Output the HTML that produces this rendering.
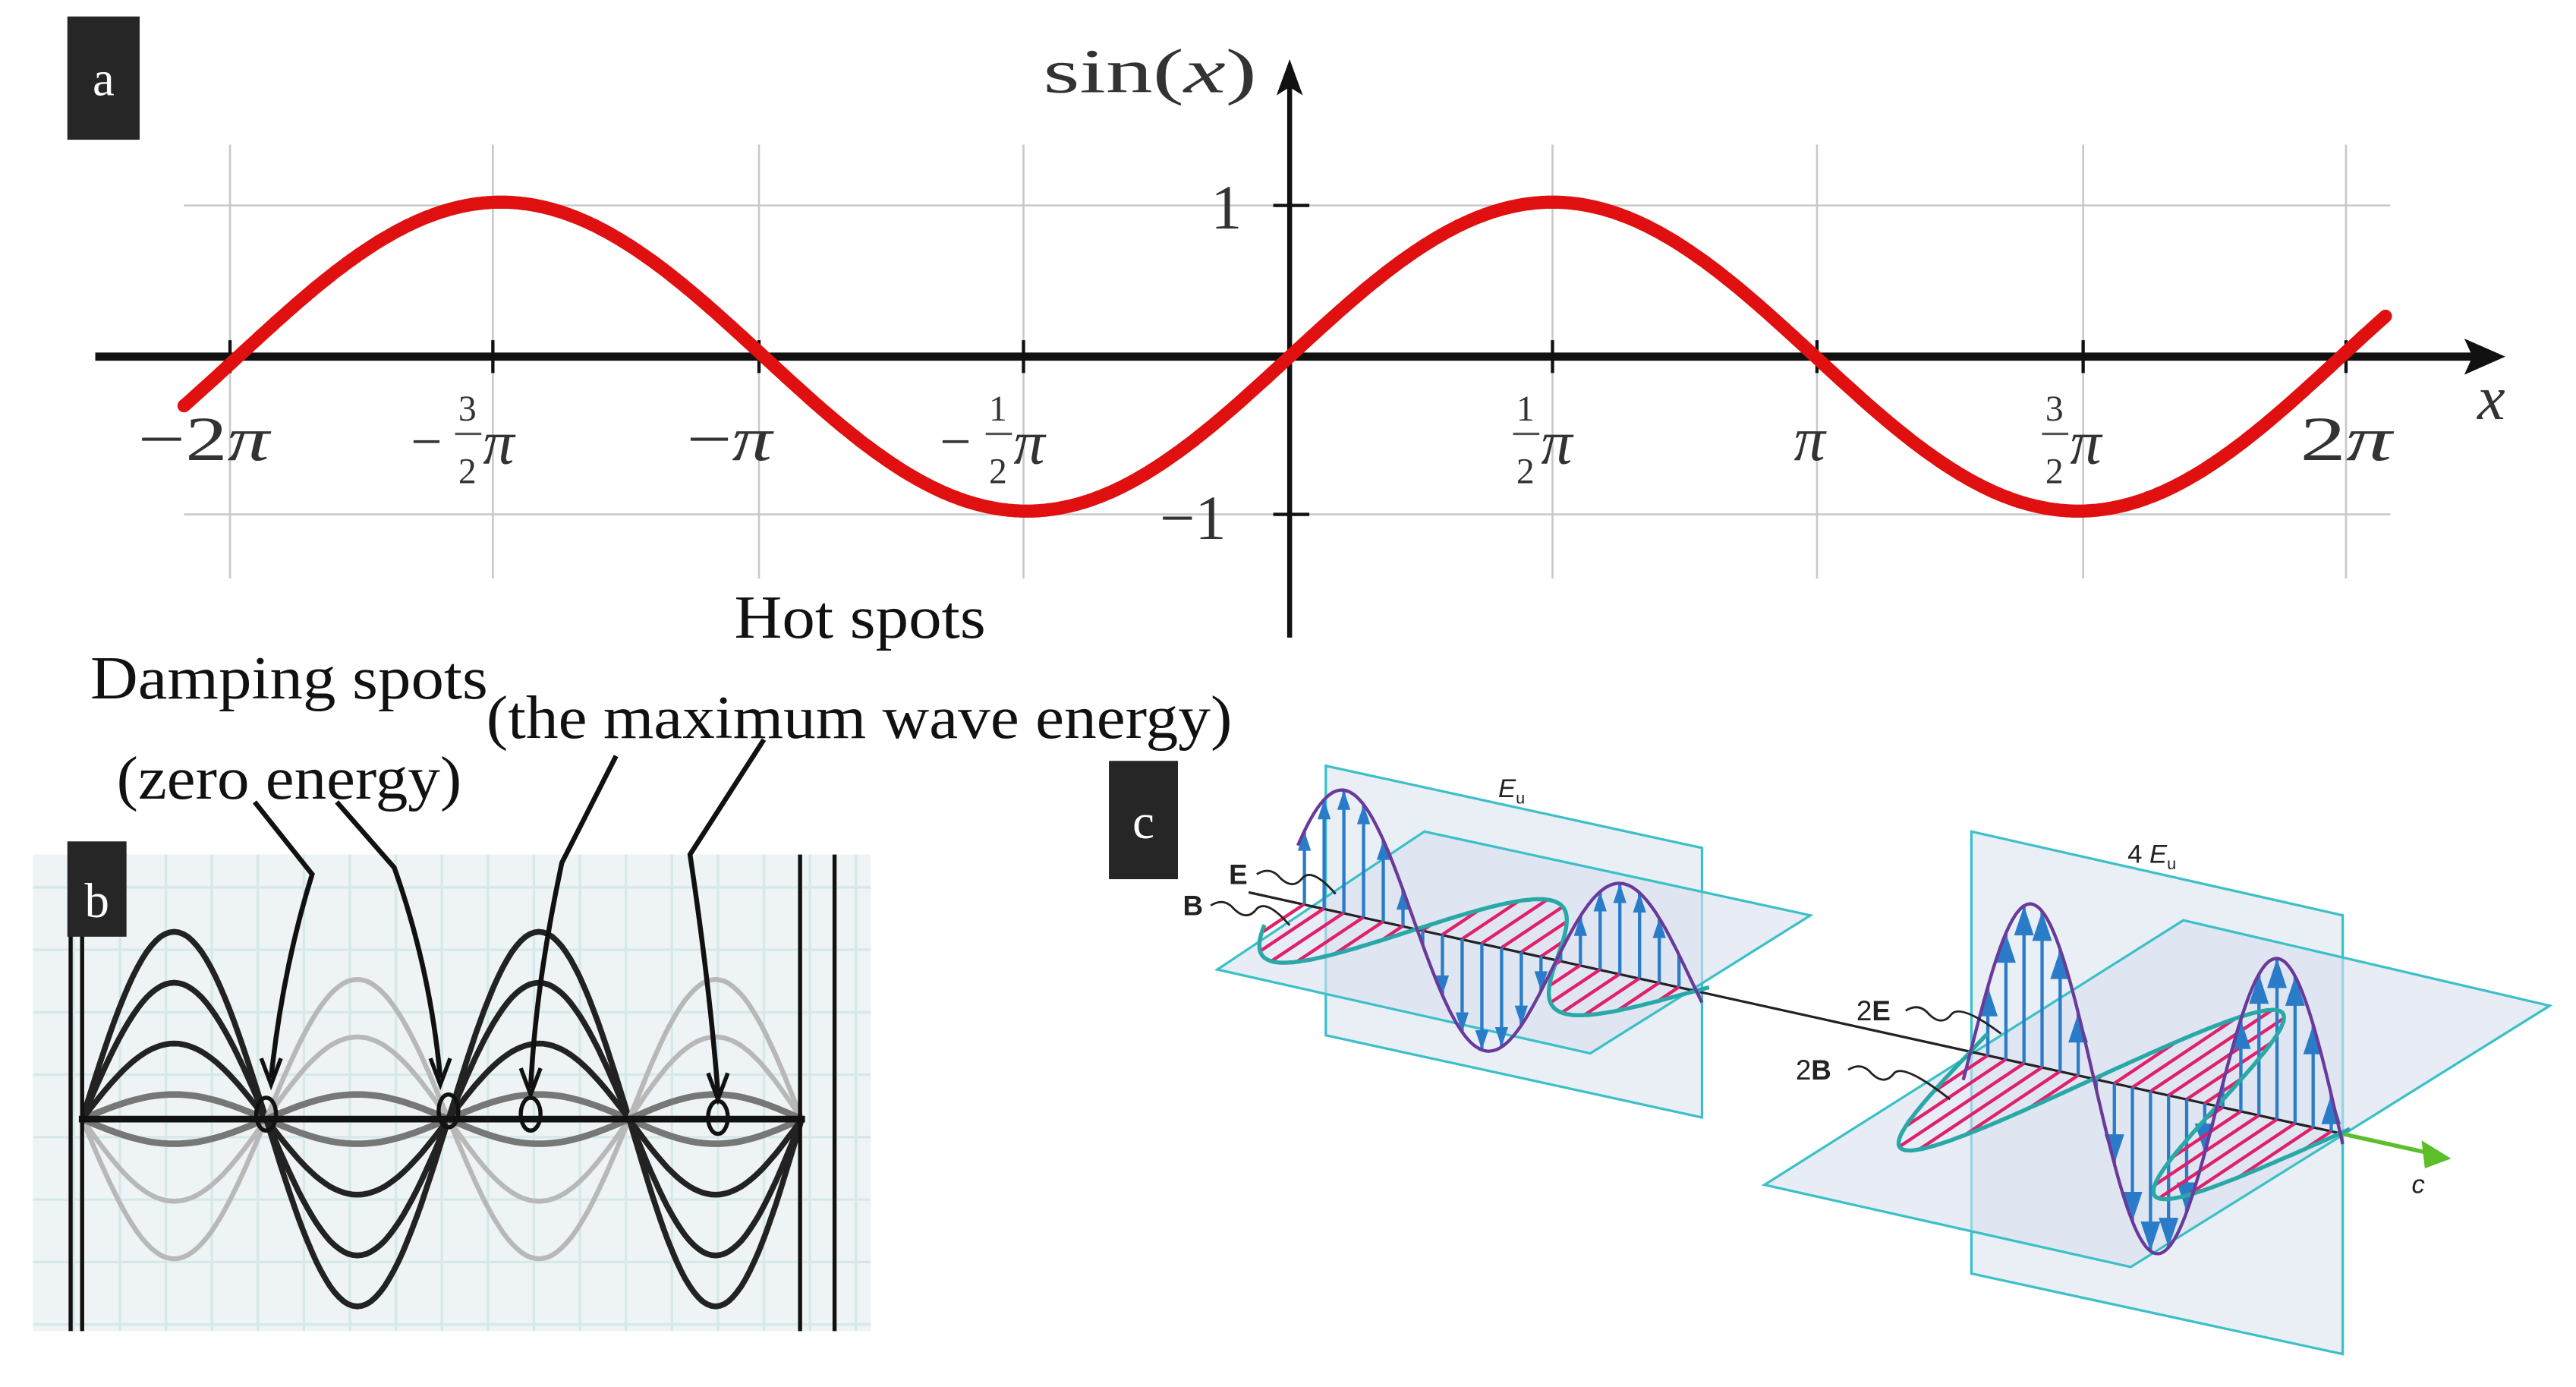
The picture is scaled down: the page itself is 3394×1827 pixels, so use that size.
<!DOCTYPE html>
<html><head><meta charset="utf-8"><style>
html,body{margin:0;padding:0;background:#fff;}
svg{display:block;}
.serif{font-family:"Liberation Serif",serif;}
.sans{font-family:"Liberation Sans",sans-serif;}
</style></head><body>
<svg id="s" width="3394" height="1827" viewBox="0 0 1568 844" xmlns="http://www.w3.org/2000/svg">
<rect width="1568" height="844" fill="#fff"/>
<g id="grid" stroke="#c8c8c8" stroke-width="1.2" fill="none"></g>
<g id="ga"></g>
<rect x="41" y="10" width="44" height="75" fill="#262626"/>
<text x="63" y="58" class="serif" font-size="30" fill="#fff" text-anchor="middle">a</text>
<g class="serif" fill="#333" font-size="38">
<text x="635" y="56" textLength="130" lengthAdjust="spacingAndGlyphs">sin(<tspan font-style="italic">x</tspan>)</text>
<text x="737" y="139">1</text>
<text x="706" y="328">−1</text>
<text x="1508" y="255" font-style="italic">x</text>
<text x="84" y="280" textLength="80" lengthAdjust="spacingAndGlyphs">−2<tspan font-style="italic">π</tspan></text>
<text x="418" y="280" textLength="52" lengthAdjust="spacingAndGlyphs">−<tspan font-style="italic">π</tspan></text>
<text x="1092" y="280" font-style="italic">π</text>
<text x="1400" y="280" textLength="56" lengthAdjust="spacingAndGlyphs">2<tspan font-style="italic">π</tspan></text>
</g>
<g class="serif" fill="#333">
<text x="250" y="280" font-size="34">−</text><text x="279" y="256" font-size="22">3</text><line x1="277" y1="264" x2="293" y2="264" stroke="#555" stroke-width="1.5"/><text x="279" y="294" font-size="22">2</text><text x="294" y="282" font-size="38" font-style="italic">π</text>
<text x="572" y="280" font-size="34">−</text><text x="602" y="256" font-size="22">1</text><line x1="600" y1="264" x2="616" y2="264" stroke="#555" stroke-width="1.5"/><text x="602" y="294" font-size="22">2</text><text x="617" y="282" font-size="38" font-style="italic">π</text>
<text x="923" y="256" font-size="22">1</text><line x1="921" y1="264" x2="937" y2="264" stroke="#555" stroke-width="1.5"/><text x="923" y="294" font-size="22">2</text><text x="938" y="282" font-size="38" font-style="italic">π</text>
<text x="1245" y="256" font-size="22">3</text><line x1="1243" y1="264" x2="1259" y2="264" stroke="#555" stroke-width="1.5"/><text x="1245" y="294" font-size="22">2</text><text x="1260" y="282" font-size="38" font-style="italic">π</text>
</g>
<g class="serif" fill="#111" font-size="37">
<text x="447" y="388" textLength="153" lengthAdjust="spacingAndGlyphs">Hot spots</text>
<text x="55" y="425" textLength="242" lengthAdjust="spacingAndGlyphs">Damping spots</text>
<text x="296" y="449" textLength="454" lengthAdjust="spacingAndGlyphs">(the maximum wave energy)</text>
<text x="71" y="486" textLength="210" lengthAdjust="spacingAndGlyphs">(zero energy)</text>
</g>
<rect x="20" y="520" width="510" height="290" fill="#eef4f5"/>
<g id="bgrid" stroke="#d6e8ea" stroke-width="1.5"></g>
<g id="gb" fill="none"></g>
<rect x="41" y="512" width="36" height="58" fill="#262626"/>
<text x="59" y="558" class="serif" font-size="30" fill="#fff" text-anchor="middle">b</text>
<g id="gc"></g>
<rect x="675" y="463" width="42" height="72" fill="#262626"/>
<text x="696" y="510" class="serif" font-size="30" fill="#fff" text-anchor="middle">c</text>
<g class="sans" fill="#222">
<text x="912" y="485" font-size="16" font-style="italic">E<tspan font-size="10" dy="4" font-style="normal">u</tspan></text>
<text x="1295" y="525" font-size="16">4 <tspan font-style="italic">E</tspan><tspan font-size="10" dy="4">u</tspan></text>
<text x="748" y="538" font-size="17" font-weight="bold">E</text>
<text x="720" y="557" font-size="17" font-weight="bold">B</text>
<text x="1130" y="621" font-size="17">2<tspan font-weight="bold">E</tspan></text>
<text x="1093" y="657" font-size="17">2<tspan font-weight="bold">B</tspan></text>
<text x="1468" y="726" font-size="16" font-style="italic">c</text>
</g>
</svg>
<script>
var NS="http://www.w3.org/2000/svg";
function el(p,t,a){var e=document.createElementNS(NS,t);for(var k in a)e.setAttribute(k,a[k]);p.appendChild(e);return e;}
var g=document.getElementById('grid'),ga=document.getElementById('ga');
[140,300,462,623,945,1106,1268,1428].forEach(function(x){el(g,'line',{x1:x,y1:88,x2:x,y2:352});});
el(g,'line',{x1:112,y1:125,x2:1455,y2:125});el(g,'line',{x1:112,y1:313,x2:1455,y2:313});
el(ga,'line',{x1:58,y1:217,x2:1510,y2:217,stroke:'#111','stroke-width':5});
el(ga,'path',{d:'M1525,217 L1500,206 L1505,217 L1500,228Z',fill:'#111'});
el(ga,'line',{x1:785,y1:388,x2:785,y2:50,stroke:'#111','stroke-width':3});
el(ga,'path',{d:'M785,36 L777,58 L785,53 L793,58Z',fill:'#111'});
[140,300,462,623,945,1106,1268,1428].forEach(function(x){el(ga,'line',{x1:x,y1:207,x2:x,y2:227,stroke:'#111','stroke-width':2});});
el(ga,'line',{x1:775,y1:125,x2:797,y2:125,stroke:'#111','stroke-width':2});
el(ga,'line',{x1:775,y1:313,x2:797,y2:313,stroke:'#111','stroke-width':2});
var d='';for(var x=112;x<=1452;x+=2){var y=217-94*Math.sin((x-785)/101.86);d+=(x==112?'M':'L')+x+','+y.toFixed(1);}
el(ga,'path',{d:d,stroke:'#e01010','stroke-width':8,fill:'none','stroke-linecap':'round'});
var bg=document.getElementById('bgrid');
for(var x=45;x<530;x+=28)el(bg,'line',{x1:x,y1:520,x2:x,y2:810});
for(var y=540;y<810;y+=38)el(bg,'line',{x1:20,y1:y,x2:530,y2:y});
var gb=document.getElementById('gb');
var N=[50,162,273,383,488];
function arch(i,A,col,w){var a=N[i],b=N[i+1],s='';for(var k=0;k<=40;k++){var x=a+(b-a)*k/40,y=681-A*Math.sin(Math.PI*k/40);s+=(k?'L':'M')+x.toFixed(1)+','+y.toFixed(1);}el(gb,'path',{d:s,stroke:col,'stroke-width':w});}
for(var i=0;i<4;i++){var sg=(i%2==0)?1:-1;
 [85,50].forEach(function(A){arch(i,-sg*A,'#b8b8b8',3);});
 [15,-15].forEach(function(A){arch(i,A,'#777',4);});
 [114,83,46].forEach(function(A){arch(i,sg*A,'#222',3.5);});}
el(gb,'line',{x1:48,y1:681,x2:490,y2:681,stroke:'#111','stroke-width':4});
[43,50,487,508].forEach(function(x){el(gb,'line',{x1:x,y1:520,x2:x,y2:810,stroke:'#111','stroke-width':2.5});});
[[162,678],[273,676],[323,678],[437,680]].forEach(function(p){el(gb,'ellipse',{cx:p[0],cy:p[1],rx:6,ry:10,stroke:'#111','stroke-width':2.5});});
var arr=[['M155,488 L190,532 Q172,590 165,656',165,660],['M205,488 L240,528 Q262,590 268,656',268,660],['M375,460 L342,525 Q326,600 323,662',323,666],['M465,450 L420,520 Q432,600 437,665',437,669]];
arr.forEach(function(a){el(gb,'path',{d:a[0],stroke:'#111','stroke-width':3});el(gb,'path',{d:'M'+(a[1]-6)+','+(a[2]-16)+' L'+a[1]+','+a[2]+' L'+(a[1]+6)+','+(a[2]-16),stroke:'#111','stroke-width':2.5});});
var gc=document.getElementById('gc');
function poly(pts,fill){el(gc,'polygon',{points:pts,fill:fill,stroke:'#3cc0c8','stroke-width':1.5});}
poly('807,466 1036,516 1036,680 807,630','rgba(225,232,242,0.7)');
poly('741,590 867,506 1102,557 968,641','rgba(215,224,238,0.6)');
poly('1200,506 1426,557 1426,824 1200,775','rgba(225,232,242,0.7)');
poly('1074,721 1329,560 1552,612 1297,771','rgba(215,224,238,0.6)');
var sl=(690-553)/(1426-807);
function ax(x){return 553+(x-807)*sl;}
var dv=[0.83,-0.555];
function wave(x0,x1,lam,xp,A0,A1,B0,B1,step,aw){
 var e='',b='';
 for(var x=x0;x<=x1;x+=1){var t=(x-x0)/(x1-x0),A=A0+(A1-A0)*t,B=B0+(B1-B0)*t,c=Math.cos(2*Math.PI*(x-xp)/lam);
  var ey=ax(x)-A*c;e+=(x==x0?'M':'L')+x+','+ey.toFixed(1);
  var bx=x-dv[0]*B*c,by=ax(x)-dv[1]*B*c;b+=(x==x0?'M':'L')+bx.toFixed(1)+','+by.toFixed(1);}
 for(var x=x0+4;x<x1;x+=step){var t=(x-x0)/(x1-x0),A=A0+(A1-A0)*t,B=B0+(B1-B0)*t,c=Math.cos(2*Math.PI*(x-xp)/lam);
  el(gc,'line',{x1:x,y1:ax(x),x2:(x-dv[0]*B*c).toFixed(1),y2:(ax(x)-dv[1]*B*c).toFixed(1),stroke:'#e0206a','stroke-width':2});
  el(gc,'line',{x1:x,y1:ax(x),x2:x,y2:(ax(x)-A*c).toFixed(1),stroke:'#2a7cc8','stroke-width':2});
  if(Math.abs(A*c)>20){var ty=ax(x)-A*c,sgn=c>0?1:-1;el(gc,'path',{d:'M'+(x-aw)+','+(ty+sgn*3*aw)+' L'+x+','+ty+' L'+(x+aw)+','+(ty+sgn*3*aw)+'Z',fill:'#2a7cc8'});}}
 el(gc,'path',{d:b,fill:'none',stroke:'#2aa8a8','stroke-width':2.5});
 el(gc,'path',{d:e,fill:'none',stroke:'#6a3a9a','stroke-width':2});
}
el(gc,'line',{x1:760,y1:543,x2:1426,y2:690,stroke:'#222','stroke-width':1.5});
el(gc,'line',{x1:1426,y1:690,x2:1480,y2:702,stroke:'#5cbf2a','stroke-width':2.5});
el(gc,'path',{d:'M1492,705 L1474,694 L1476,711Z',fill:'#5cbf2a'});
wave(790,1036,170,820,78,50,55,40,12,4);
wave(1195,1426,150,1237,98,98,95,85,11,6);
el(gc,'path',{d:'M765,532 q8,-5 14,2 q8,8 14,0 q6,-6 20,10',fill:'none',stroke:'#222','stroke-width':1.3});
el(gc,'path',{d:'M737,551 q8,-5 14,2 q8,8 14,0 q6,-6 20,10',fill:'none',stroke:'#222','stroke-width':1.3});
el(gc,'path',{d:'M1160,615 q8,-5 14,2 q8,8 14,0 q6,-6 30,12',fill:'none',stroke:'#222','stroke-width':1.3});
el(gc,'path',{d:'M1125,651 q8,-5 14,2 q8,8 14,0 q6,-6 34,16',fill:'none',stroke:'#222','stroke-width':1.3});
</script>
</body></html>
